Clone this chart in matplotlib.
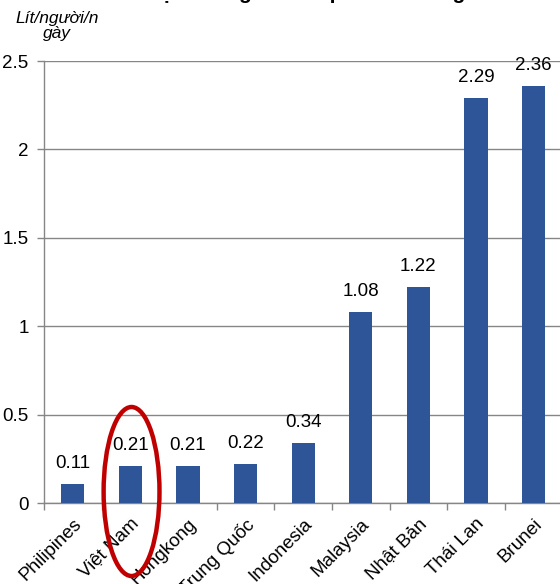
import matplotlib
matplotlib.use("Agg")
import matplotlib.pyplot as plt
from matplotlib.patches import Ellipse

plt.rcParams["font.family"] = ["Liberation Sans", "DejaVu Sans"]

countries = ["Philipines", "Việt Nam", "Hongkong", "Trung Quốc", "Indonesia",
             "Malaysia", "Nhật Bản", "Thái Lan", "Brunei"]
values = [0.11, 0.21, 0.21, 0.22, 0.34, 1.08, 1.22, 2.29, 2.36]
value_labels = ["0.11", "0.21", "0.21", "0.22", "0.34", "1.08", "1.22", "2.29", "2.36"]
yticks = [0, 0.5, 1, 1.5, 2, 2.5]
ytick_labels = ["0", "0.5", "1", "1.5", "2", "2.5"]
highlight = "Việt Nam"

W, H = 560, 584
fig = plt.figure(figsize=(W / 100, H / 100), dpi=100)
ax = fig.add_axes([44 / W, 81 / H, 518.4 / W, 442 / H])

bar_color = "#2E5597"
axis_gray = "#868686"
x = list(range(len(countries)))
ax.bar(x, values, width=0.4, color=bar_color, zorder=3)

for xi, v, lab in zip(x, values, value_labels):
    ax.annotate(lab, (xi, v), xytext=(0, 11.5), textcoords="offset points",
                ha="center", va="baseline", fontsize=13.5, color="black",
                zorder=4, annotation_clip=False)

ax.set_xlim(-0.5, len(countries) - 0.5)
ax.set_ylim(0, 2.5)
ax.set_yticks(yticks)
ax.set_yticklabels(ytick_labels, fontsize=13.5)
ax.yaxis.grid(True, color=axis_gray, linewidth=1.0, zorder=0)
ax.set_axisbelow(True)

# category ticks sit between bars, labels under bar centres
ax.set_xticks([i - 0.5 for i in range(len(countries) + 1)], minor=False)
ax.set_xticklabels([])
ax.set_xticks(x, minor=True)
ax.set_xticklabels(countries, minor=True, rotation=45, ha="right", va="top",
                   rotation_mode="anchor", fontsize=13.5)
ax.tick_params(axis="x", which="minor", length=0, pad=9)
ax.tick_params(axis="x", which="major", length=5, color=axis_gray, width=1)
ax.tick_params(axis="y", length=5, color=axis_gray, width=1, pad=6)

for side in ("top", "right"):
    ax.spines[side].set_visible(False)
for side in ("left", "bottom"):
    ax.spines[side].set_color(axis_gray)
    ax.spines[side].set_linewidth(1.0)

# red ring around the Vietnam bar
vi = countries.index(highlight)
ring = Ellipse((vi + 0.02, 0.065), width=0.97, height=0.956, fill=False,
               edgecolor="#C00000", linewidth=3.2, zorder=5, clip_on=False)
ax.add_patch(ring)

fig.text(57 / W, 1 - 11 / H, "Lít/người/n\ngày", ha="center", va="top",
         fontsize=12.5, style="italic", linespacing=1.0)

fig.text(0.5, 1 + 1 / H, "Mức tiêu thụ nước giải khát pha sẵn đóng chai",
         ha="center", va="baseline", fontsize=15, fontweight="bold")

fig.savefig("out.png", dpi=100)
